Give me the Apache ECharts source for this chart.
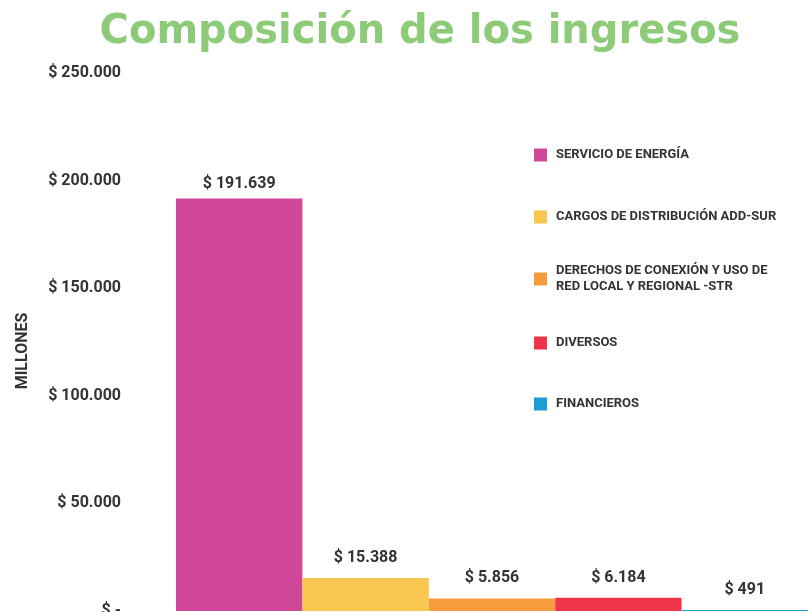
<!DOCTYPE html>
<html><head><meta charset="utf-8">
<script src="https://cdn.jsdelivr.net/npm/echarts@6/dist/echarts.min.js"></script>
<style>html,body{margin:0;padding:0;background:#fff}#c{width:811px;height:612px}</style>
</head><body><div id="c"></div>
<script>
const seriesNames = ['SERVICIO DE ENERGÍA','CARGOS DE DISTRIBUCIÓN ADD-SUR','DERECHOS DE CONEXIÓN Y USO DE\nRED LOCAL Y REGIONAL -STR','DIVERSOS','FINANCIEROS'];
const seriesValues = [191639, 15388, 5856, 6184, 491];
const seriesColors = ['#D0479A','#F9C74F','#F79C3C','#EF344A','#1A9FD4'];
const yTicks = [0, 50000, 100000, 150000, 200000, 250000];
const legendTops = [142, 204, 250, 330, 391];

function fmt(v){
  if (v === 0) return '$ -';
  return '$ ' + String(Math.round(v)).replace(/\B(?=(\d{3})+(?!\d))/g, '.');
}
const chart = echarts.init(document.getElementById('c'));
const series = seriesNames.map((n,i)=>({
  name: n, type: 'bar', stack: 'all',
  data: seriesValues.map((v,j)=> j===i ? v : '-'),
  itemStyle: {color: seriesColors[i]},
  barWidth: '100%',
  label: {show: true, position: 'top', distance: i === 0 ? 7 : 12, formatter: p => fmt(p.value),
    fontFamily: 'Roboto', fontWeight: 'bold', fontSize: 16, color: '#333'}
}));
chart.setOption({
  animation: false,
  title: {text: 'Composición de los ingresos', left: 415, textAlign: 'center', top: 8,
    textStyle: {fontFamily: 'DejaVu Sans', fontWeight: 'bold', fontSize: 40, color: '#8DCB78'}},
  grid: {left: 176, right: 3, top: 73, bottom: 1, outerBoundsMode: 'none', containLabel: false},
  legend: seriesNames.map((n,i)=>({
    data: [n], left: 529, top: legendTops[i], orient: 'vertical',
    itemWidth: 13, itemHeight: 13, icon: 'rect', itemGap: 0,
    textStyle: {fontFamily: 'Roboto', fontWeight: 'bold', fontSize: 13, color: '#333', lineHeight: 16,
      padding: i === 2 ? [16,0,0,4] : [0,0,0,4]}
  })),
  xAxis: {type: 'category', data: seriesNames.map(()=>''), axisLine: {show: false},
    axisTick: {show: false}, axisLabel: {show: false}},
  yAxis: {type: 'value', min: 0, max: 250000, interval: 50000,
    name: 'MILLONES', nameLocation: 'middle', nameGap: 145, nameRotate: 90,
    nameTextStyle: {fontFamily: 'Roboto', fontWeight: 'bold', fontSize: 16, color: '#333', padding: [0,18,0,0]},
    splitLine: {show: false}, axisLine: {show: false}, axisTick: {show: false},
    axisLabel: {margin: 55, formatter: v => fmt(v), fontFamily: 'Roboto', fontWeight: 'bold', fontSize: 16, color: '#333'}},
  series: series
});
</script></body></html>
